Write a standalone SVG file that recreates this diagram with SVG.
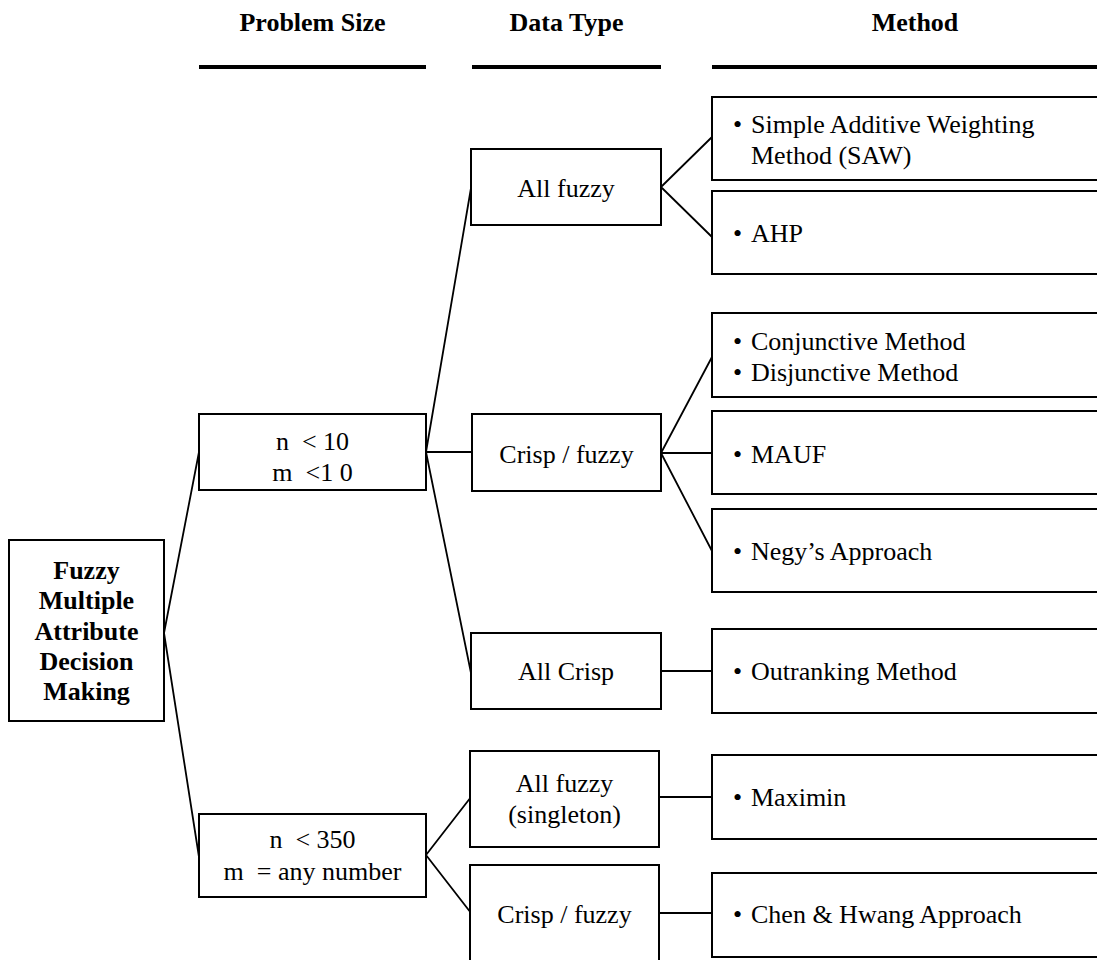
<svg xmlns="http://www.w3.org/2000/svg" width="1097" height="960" viewBox="0 0 1097 960">
<style>
text{font-family:"Liberation Serif","Times New Roman",serif;font-size:26px;fill:#000;white-space:pre}
.c{text-anchor:middle}
.b{font-weight:bold}
.box{fill:#fff;stroke:#000;stroke-width:2}
.bar{stroke:#000;stroke-width:4}
.ln{stroke:#000;stroke-width:1.8;fill:none}
</style>
<rect width="1097" height="960" fill="#fff"/>
<g id="headers">
<text class="c b" x="312.5" y="31">Problem Size</text>
<text class="c b" x="566.5" y="31">Data Type</text>
<text class="c b" x="915" y="31">Method</text>
<line class="bar" x1="199" y1="67" x2="426" y2="67"/>
<line class="bar" x1="472" y1="67" x2="661" y2="67"/>
<line class="bar" x1="712" y1="67" x2="1097" y2="67"/>
</g>
<g id="connectors">
<path class="ln" d="M164 633 L199 452 M164 633 L199 857"/>
<path class="ln" d="M426 452 L471 188 M426 452 L472 452 M426 452 L471 673"/>
<path class="ln" d="M661 187 L712 137 M661 187 L712 237"/>
<path class="ln" d="M661 453 L712 357 M661 453 L712 453 M661 453 L712 551"/>
<path class="ln" d="M661 671 L712 671"/>
<path class="ln" d="M426 855 L471 797 M426 855 L471 913"/>
<path class="ln" d="M659 797 L712 797 M659 913 L712 913"/>
</g>
<g id="root">
<rect class="box" x="9" y="540" width="155" height="181"/>
<text class="c b" x="86.5" y="579">Fuzzy</text>
<text class="c b" x="86.5" y="609">Multiple</text>
<text class="c b" x="86.5" y="640">Attribute</text>
<text class="c b" x="86.5" y="670">Decision</text>
<text class="c b" x="86.5" y="700">Making</text>
</g>
<g id="size-small">
<rect class="box" x="199" y="414" width="227" height="76"/>
<text class="c" x="312.5" y="450" xml:space="preserve">n  &lt; 10</text>
<text class="c" x="312.5" y="481" xml:space="preserve">m  &lt;1 0</text>
</g>
<g id="size-large">
<rect class="box" x="199" y="814" width="227" height="83"/>
<text class="c" x="312.5" y="848" xml:space="preserve">n  &lt; 350</text>
<text class="c" x="312.5" y="880" xml:space="preserve">m  = any number</text>
</g>
<g id="dt-allfuzzy">
<rect class="box" x="471" y="149" width="190" height="76"/>
<text class="c" x="566" y="197">All fuzzy</text>
</g>
<g id="dt-crispfuzzy">
<rect class="box" x="472" y="414" width="189" height="77"/>
<text class="c" x="566.5" y="463">Crisp / fuzzy</text>
</g>
<g id="dt-allcrisp">
<rect class="box" x="471" y="633" width="190" height="76"/>
<text class="c" x="566" y="680">All Crisp</text>
</g>
<g id="dt-singleton">
<rect class="box" x="470" y="751" width="189" height="96"/>
<text class="c" x="564.5" y="792">All fuzzy</text>
<text class="c" x="564.5" y="823">(singleton)</text>
</g>
<g id="dt-crispfuzzy2">
<rect class="box" x="470" y="865" width="189" height="100"/>
<text class="c" x="564.5" y="923">Crisp / fuzzy</text>
</g>
<g id="m-saw">
<rect class="box" x="712" y="97" width="420" height="83"/>
<text x="733" y="133">•</text><text x="751" y="133">Simple Additive Weighting</text>
<text x="751" y="164">Method (SAW)</text>
</g>
<g id="m-ahp">
<rect class="box" x="712" y="191" width="420" height="83"/>
<text x="733" y="242">•</text><text x="751" y="242">AHP</text>
</g>
<g id="m-conj">
<rect class="box" x="712" y="313" width="420" height="84"/>
<text x="733" y="350">•</text><text x="751" y="350">Conjunctive Method</text>
<text x="733" y="381">•</text><text x="751" y="381">Disjunctive Method</text>
</g>
<g id="m-mauf">
<rect class="box" x="712" y="411" width="420" height="83"/>
<text x="733" y="463">•</text><text x="751" y="463">MAUF</text>
</g>
<g id="m-negy">
<rect class="box" x="712" y="509" width="420" height="83"/>
<text x="733" y="560">•</text><text x="751" y="560">Negy’s Approach</text>
</g>
<g id="m-outrank">
<rect class="box" x="712" y="629" width="420" height="84"/>
<text x="733" y="680">•</text><text x="751" y="680">Outranking Method</text>
</g>
<g id="m-maximin">
<rect class="box" x="712" y="755" width="420" height="84"/>
<text x="733" y="806">•</text><text x="751" y="806">Maximin</text>
</g>
<g id="m-chen">
<rect class="box" x="712" y="873" width="420" height="84"/>
<text x="733" y="923">•</text><text x="751" y="923">Chen &amp; Hwang Approach</text>
</g>
</svg>
